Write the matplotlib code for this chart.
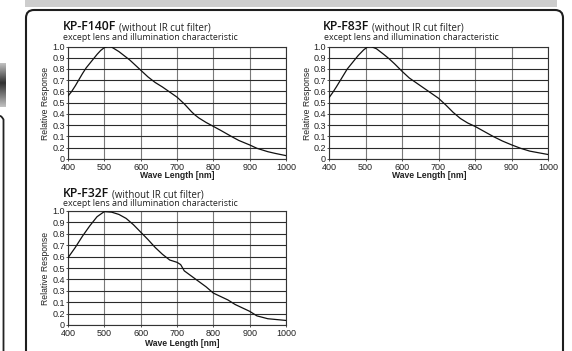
import numpy as np
import matplotlib
matplotlib.use("Agg")
import matplotlib.pyplot as plt
from matplotlib.patches import FancyBboxPatch, Rectangle

# ---------------- data ----------------
wl_f140 = [400, 410, 420, 430, 440, 450, 460, 470, 480, 490, 500, 510, 520, 530, 540, 560, 570, 580, 590, 600,
           610, 620, 630, 640, 650, 660, 680, 700, 720, 740, 750, 760, 780, 800, 820, 850, 870, 900, 920, 950, 970, 1000]
resp_f140 = [0.56, 0.60, 0.65, 0.705, 0.76, 0.81, 0.85, 0.89, 0.93, 0.965, 0.99, 1.00, 0.995, 0.975, 0.955, 0.905,
             0.88, 0.85, 0.82, 0.79, 0.76, 0.73, 0.705, 0.68, 0.66, 0.64, 0.595, 0.55, 0.49, 0.42, 0.39, 0.365,
             0.325, 0.29, 0.255, 0.20, 0.165, 0.125, 0.095, 0.065, 0.05, 0.03]

wl_f83 = [400, 410, 420, 435, 450, 465, 480, 495, 505, 515, 530, 550, 565, 580, 600, 620, 640, 660, 680, 700,
          720, 740, 760, 780, 800, 825, 850, 875, 900, 925, 950, 975, 1000]
resp_f83 = [0.545, 0.59, 0.64, 0.72, 0.80, 0.86, 0.92, 0.97, 0.995, 1.00, 0.98, 0.93, 0.89, 0.845, 0.78, 0.72,
            0.675, 0.63, 0.585, 0.54, 0.48, 0.415, 0.36, 0.32, 0.29, 0.245, 0.20, 0.16, 0.126, 0.095, 0.07, 0.055, 0.04]

wl_f32 = [400, 420, 440, 460, 480, 500, 520, 540, 560, 580, 600, 620, 640, 660, 680, 700, 710, 720, 750, 780,
          800, 820, 840, 860, 900, 920, 950, 1000]
resp_f32 = [0.59, 0.68, 0.78, 0.87, 0.95, 0.995, 0.99, 0.97, 0.935, 0.88, 0.815, 0.75, 0.68, 0.62, 0.57, 0.55,
            0.53, 0.475, 0.405, 0.335, 0.28, 0.25, 0.22, 0.18, 0.12, 0.08, 0.055, 0.04]

x_ticks = [400, 500, 600, 700, 800, 900, 1000]
y_ticks = [0.0, 0.1, 0.2, 0.3, 0.4, 0.5, 0.6, 0.7, 0.8, 0.9, 1.0]
y_tick_labels = ["0", "0.2", "0.1", "0.3", "0.4", "0.5", "0.6", "0.7", "0.8", "0.9", "1.0"]

models = ["KP-F140F", "KP-F83F", "KP-F32F"]
subtitle = "(without IR cut filter)"
note = "except lens and illumination characteristic"
xlabel = "Wave Length [nm]"
ylabel = "Relative Response"

# ---------------- layout ----------------
W, H = 572, 351
fig = plt.figure(figsize=(W / 100, H / 100), dpi=100)
fig.patch.set_facecolor("white")

def px_axes(left, top, right, bottom, **kw):
    return fig.add_axes([left / W, 1 - bottom / H, (right - left) / W, (bottom - top) / H], **kw)

# background decorations
bg = px_axes(0, 0, W, H, zorder=-5)
bg.set_xlim(0, W)
bg.set_ylim(H, 0)
bg.axis("off")
bg.add_patch(Rectangle((25, 0), 532, 7, facecolor="#cdcdcd", edgecolor="none"))
bg.add_patch(FancyBboxPatch((26, 10), 537, 400, boxstyle="round,pad=0,rounding_size=8",
                            facecolor="white", edgecolor="#1e1e1e", linewidth=1.5))
grad = np.concatenate([np.linspace(0.75, 0.2, 20), np.linspace(0.2, 0.75, 24)])[:, None]
bg.imshow(np.repeat(grad, 3, axis=1), cmap="gray", vmin=0, vmax=1, extent=(0, 6, 107, 63),
          aspect="auto", interpolation="bilinear")
tt = np.linspace(np.pi / 2, 0, 10)
bg.plot(np.r_[0, 3.5 * (1 - np.cos(tt)) * 0 + 3.5 * np.cos(np.pi / 2 - tt) * 0 + np.linspace(0, 3.5, 10), 3.5],
        np.r_[116, 116 + 3.5 * (1 - np.sin(tt)), 351], color="#222", lw=1.3)

title_font = "Open Sans"
label_font = "Liberation Sans"

def panel(ax, wl, resp, model, title_xy, note_xy, xlab_xy, ylab_xy):
    ax.plot(wl, resp, color="#111", lw=0.9, zorder=3)
    ax.set_xlim(400, 1000)
    ax.set_ylim(0, 1.0)
    ax.set_xticks(x_ticks)
    ax.set_yticks(y_ticks)
    ax.set_yticklabels(y_tick_labels)
    ax.grid(axis="y", color="#2a2a2a", lw=0.8)
    ax.grid(axis="x", color="#7a7a7a", lw=0.8)
    for s in ax.spines.values():
        s.set_color("#333")
        s.set_linewidth(0.8)
    ax.tick_params(axis="both", length=1.5, width=0.6, color="#333", labelsize=6.5,
                   labelcolor="#222", pad=0.8)
    ax.tick_params(axis="x", pad=1.5)
    for lab in ax.get_xticklabels() + ax.get_yticklabels():
        lab.set_fontfamily(label_font)
    tx, ty = title_xy
    t = fig.text(tx / W, 1 - ty / H, model, fontsize=8.8, fontfamily=title_font,
                 fontweight="semibold", color="#111", va="baseline", ha="left")
    fig.canvas.draw()
    bb = t.get_window_extent()
    fig.text((bb.x1 + 3) / W, 1 - ty / H, subtitle, fontsize=6.9, fontfamily=title_font,
             color="#222", va="baseline", ha="left")
    nx, ny = note_xy
    fig.text(nx / W, 1 - ny / H, note, fontsize=6.4, fontfamily=title_font,
             color="#222", va="center", ha="left")
    xx, xy = xlab_xy
    fig.text(xx / W, 1 - xy / H, xlabel, fontsize=6.2, fontfamily=label_font,
             fontweight="bold", color="#222", va="center", ha="center")
    yx, yy = ylab_xy
    fig.text(yx / W, 1 - yy / H, ylabel, fontsize=6.2, fontfamily=label_font,
             color="#222", va="center", ha="center", rotation=90)

ax1 = px_axes(68, 46.5, 286, 159)
panel(ax1, wl_f140, resp_f140, models[0], (63, 30), (63, 37.5), (177, 176), (45, 103))
ax2 = px_axes(329, 46.5, 548, 159)
panel(ax2, wl_f83, resp_f83, models[1], (323, 30), (324, 37.5), (429, 176), (307, 103))
ax3 = px_axes(68, 211, 286, 325)
panel(ax3, wl_f32, resp_f32, models[2], (63, 197), (63, 203.5), (182, 343), (45, 268))

fig.savefig("out.png", dpi=100, facecolor="white")
